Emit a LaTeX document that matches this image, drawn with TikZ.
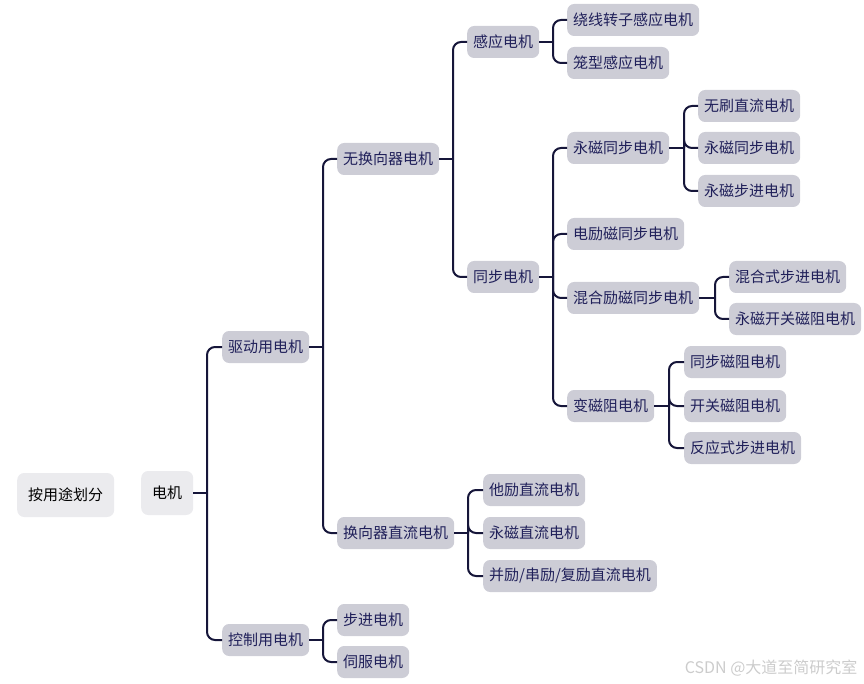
\documentclass[tikz,border=0pt]{standalone}
\usepackage{fontspec}
\setmainfont{Noto Sans CJK SC}
\definecolor{nodefill}{HTML}{CDCDD6}
\definecolor{rootfill}{HTML}{EBEBEE}
\definecolor{txt}{HTML}{20205A}
\definecolor{ln}{HTML}{16163A}
\tikzset{
  box/.style={fill=nodefill, rounded corners=7pt, minimum height=32pt, inner xsep=6pt, inner ysep=0pt, text=txt, font=\fontsize{15}{17}\selectfont, anchor=west},
  rootbox/.style={box, fill=rootfill, text=black, minimum height=44pt, inner xsep=11pt},
  conn/.style={draw=ln, line width=2pt, rounded corners=8pt},
}
\begin{document}
\begin{tikzpicture}[x=1pt,y=-1pt]
\useasboundingbox (0,0) rectangle (864,684);
% nodes
\node[rootbox] (r) at (17,495) {按用途划分};
\node[rootbox] (dj) at (141,493) {电机};
\node[box] (a1) at (222,347) {驱动用电机};
\node[box] (a2) at (222,640) {控制用电机};
\node[box] (b1) at (337,159) {无换向器电机};
\node[box] (b2) at (337,533) {换向器直流电机};
\node[box] (b3) at (337,620) {步进电机};
\node[box] (b4) at (337,662) {伺服电机};
\node[box] (c1) at (467,42) {感应电机};
\node[box] (c2) at (467,277) {同步电机};
\node[box] (d1) at (567,20) {绕线转子感应电机};
\node[box] (d2) at (567,63) {笼型感应电机};
\node[box] (e1) at (567,148) {永磁同步电机};
\node[box] (e2) at (567,234) {电励磁同步电机};
\node[box] (e3) at (567,298) {混合励磁同步电机};
\node[box] (e4) at (567,406) {变磁阻电机};
\node[box] (f1) at (698,106) {无刷直流电机};
\node[box] (f2) at (698,148) {永磁同步电机};
\node[box] (f3) at (698,191) {永磁步进电机};
\node[box] (g1) at (729,277) {混合式步进电机};
\node[box] (g2) at (729,319) {永磁开关磁阻电机};
\node[box] (h1) at (684,362) {同步磁阻电机};
\node[box] (h2) at (684,406) {开关磁阻电机};
\node[box] (h3) at (684,448) {反应式步进电机};
\node[box] (k1) at (483,490) {他励直流电机};
\node[box] (k2) at (483,533) {永磁直流电机};
\node[box] (k3) at (483,576) {并励/串励/复励直流电机};
% trunk points
\coordinate (tdj) at (207,493);
\coordinate (ta1) at (323,347);
\coordinate (ta2) at (323,640);
\coordinate (tb1) at (453,159);
\coordinate (tb2) at (468,533);
\coordinate (tc1) at (553,42);
\coordinate (tc2) at (553,277);
\coordinate (te1) at (684,148);
\coordinate (te3) at (715,298);
\coordinate (te4) at (669,406);
% connectors
\foreach \p/\t in {dj/tdj,a1/ta1,a2/ta2,b1/tb1,b2/tb2,c1/tc1,c2/tc2,e1/te1,e3/te3,e4/te4}
  \draw[conn] (\p.east) -- (\t);
\foreach \t/\c in {tdj/a1,tdj/a2,ta1/b1,ta1/b2,ta2/b3,ta2/b4,tb1/c1,tb1/c2,tc1/d1,tc1/d2,
  tc2/e1,tc2/e2,tc2/e3,tc2/e4,te1/f1,te1/f2,te1/f3,te3/g1,te3/g2,te4/h1,te4/h2,te4/h3,
  tb2/k1,tb2/k2,tb2/k3}
  \draw[conn] (\t) |- (\c.west);
% watermark
\node[text=gray!40, font=\fontsize{16}{18}\selectfont, anchor=east] (wm) at (861,668) {CSDN @大道至简研究室};
\end{tikzpicture}
\end{document}
